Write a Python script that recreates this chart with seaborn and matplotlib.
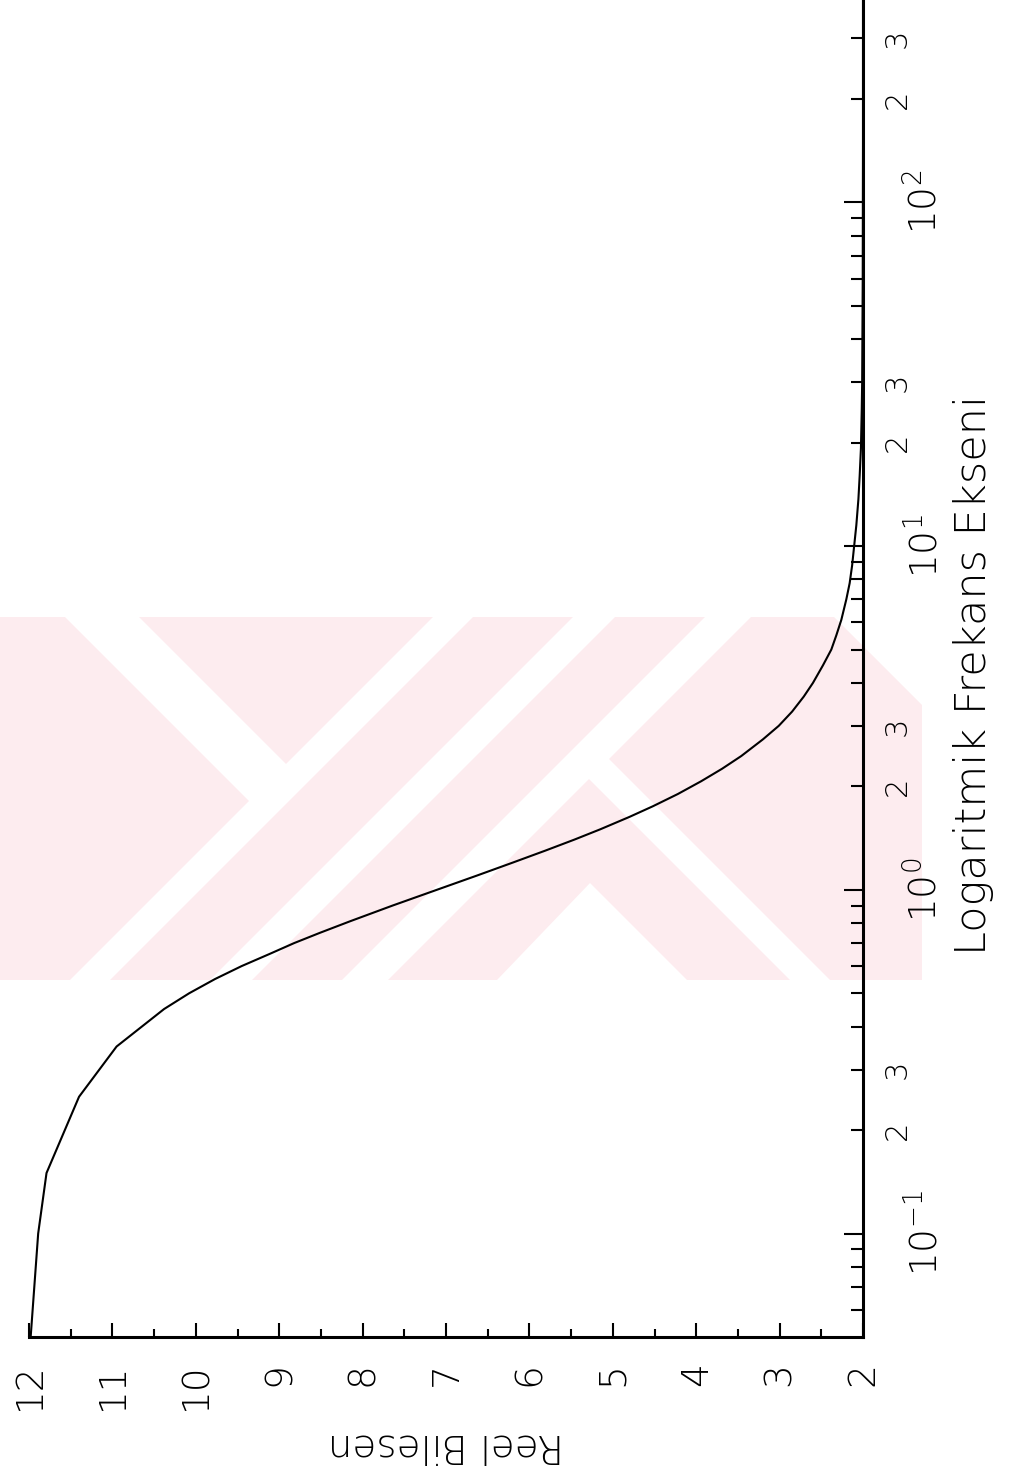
import numpy as np
import matplotlib
matplotlib.use('Agg')
import matplotlib.pyplot as plt
import seaborn as sns
import pandas as pd
from matplotlib.patches import Polygon
from matplotlib.transforms import Affine2D

sns.set_theme(style='white')
plt.rcParams['font.family'] = ['DejaVu Sans']
plt.rcParams['font.weight'] = 'light'
plt.rcParams['mathtext.fontset'] = 'custom'
plt.rcParams['mathtext.rm'] = 'DejaVu Sans:light'
plt.rcParams['mathtext.it'] = 'DejaVu Sans:light'
plt.rcParams['mathtext.bf'] = 'DejaVu Sans:light'
plt.rcParams['mathtext.default'] = 'rm'

#### DATA ####
frekans = [0.05, 0.1, 0.15, 0.25, 0.35, 0.45, 0.5, 0.55, 0.6, 0.65, 0.7, 0.75,
           0.81, 0.9, 1.0, 1.1, 1.2, 1.3, 1.4, 1.5, 1.63, 1.75, 1.9, 2.07,
           2.25, 2.45, 2.74, 3.0, 3.3, 3.65, 4.0, 4.5, 5.0, 5.5, 6.1, 7.0,
           7.8, 8.8, 9.8, 11.5, 13.7, 16.0, 19.2, 25.0, 30.0, 60.0, 150.0, 388.0]
reel = [11.98, 11.89, 11.79, 11.40, 10.95, 10.38, 10.08, 9.77, 9.45, 9.12, 8.82, 8.51,
        8.15, 7.64, 7.11, 6.63, 6.20, 5.81, 5.46, 5.15, 4.80, 4.52, 4.22, 3.94,
        3.69, 3.46, 3.20, 3.01, 2.85, 2.71, 2.60, 2.48, 2.38, 2.32, 2.26, 2.20,
        2.16, 2.13, 2.11, 2.08, 2.055, 2.04, 2.025, 2.015, 2.01, 2.003, 2.0, 2.0]

reel_ticks = list(range(2, 13))
dekadlar = [0.1, 1, 10, 100]
dekad_etiket = ['$10^{-1}$', '$10^{0}$', '$10^{1}$', '$10^{2}$']
ara_carpan = [2, 3, 4, 5, 6, 7, 8, 9]
ara_etiket = {2: '2', 3: '3'}

df = pd.DataFrame({'frekans': frekans, 'reel': reel})

#### FIGURE ####
fig = plt.figure(figsize=(10.10, 14.72), dpi=100)
ax = fig.add_axes([29 / 1010, 1 - 1337 / 1472, 834 / 1010, 1337 / 1472])
ax.patch.set_alpha(0)

# pale pink watermark of the scanned page (pixel coordinates of the page)
px = Affine2D().scale(1 / 1010, -1 / 1472).translate(0, 1) + fig.transFigure
pembe = '#fdecef'
taban = Polygon([(0, 617), (834, 617), (922, 705), (922, 980), (0, 980)],
                closed=True, transform=px, facecolor=pembe, edgecolor='none', zorder=-2)
fig.add_artist(taban)
beyaz_seritler = [
    [(65, 617), (139, 617), (296, 774), (259, 811)],      # left "\" cut
    [(433, 617), (473, 617), (110, 980), (70, 980)],       # "/" cuts
    [(573, 617), (615, 617), (252, 980), (210, 980)],
    [(705, 617), (751, 617), (388, 980), (342, 980)],
    [(497, 980), (590, 883), (687, 980)],                  # inner "^"
    [(600, 750), (830, 980), (790, 980), (580, 770)],      # right "\" cut
]
for pts in beyaz_seritler:
    p = Polygon(pts, closed=True, transform=px, facecolor='white',
                edgecolor='none', zorder=-1)
    fig.add_artist(p)
    p.set_clip_path(taban)

sns.lineplot(data=df, x='reel', y='frekans', sort=False, estimator=None,
             color='black', linewidth=1.5, ax=ax)
ax.set_yscale('log')
ax.set_xlim(12, 2)
ax.set_ylim(0.05, 388)

for s in ['left', 'top']:
    ax.spines[s].set_visible(False)
for s in ['right', 'bottom']:
    ax.spines[s].set_linewidth(2.2)
    ax.spines[s].set_color('black')

# real axis (bottom)
ax.set_xticks(reel_ticks)
ax.set_xticks(np.arange(2.5, 12, 1), minor=True)
ax.set_xticklabels([str(v) for v in reel_ticks])
ax.tick_params(axis='x', which='major', bottom=True, direction='in', length=10,
               width=1.5, pad=18, labelsize=27, labelrotation=90, colors='black')
ax.tick_params(axis='x', which='minor', bottom=True, direction='in', length=6,
               width=1.5, colors='black')

# frequency axis (right)
ax.yaxis.tick_right()
ax.yaxis.set_label_position('right')
ara_ticks, ara_labels = [], []
for e in range(-2, 3):
    for m in ara_carpan:
        v = m * 10.0 ** e
        if 0.055 < v < 388:
            ara_ticks.append(v)
            ara_labels.append(ara_etiket.get(m, ''))
ax.set_yticks(dekadlar)
ax.set_yticklabels(dekad_etiket)
ax.set_yticks(ara_ticks, minor=True)
ax.set_yticklabels(ara_labels, minor=True)
ax.tick_params(axis='y', which='major', right=True, left=False, direction='in',
               length=14, width=1.5, pad=30, labelsize=27, labelrotation=90, colors='black')
ax.tick_params(axis='y', which='minor', right=True, left=False, direction='in',
               length=8.5, width=1.5, pad=14, labelsize=22, labelrotation=90, colors='black')
for lab in ax.get_yticklabels(which='both'):
    lab.set_va('center')

ax.set_xlabel('Reel Bilesen', fontsize=28, rotation=180, color='black', fontweight='light')
ax.xaxis.set_label_coords(0.5, -90 / 1337)
ax.set_ylabel('Logaritmik Frekans Ekseni', fontsize=31, color='black', fontweight='light')
ax.yaxis.set_label_coords((953 - 29) / 834, (1337 - 675) / 1337)

fig.savefig('out.png', dpi=100)
